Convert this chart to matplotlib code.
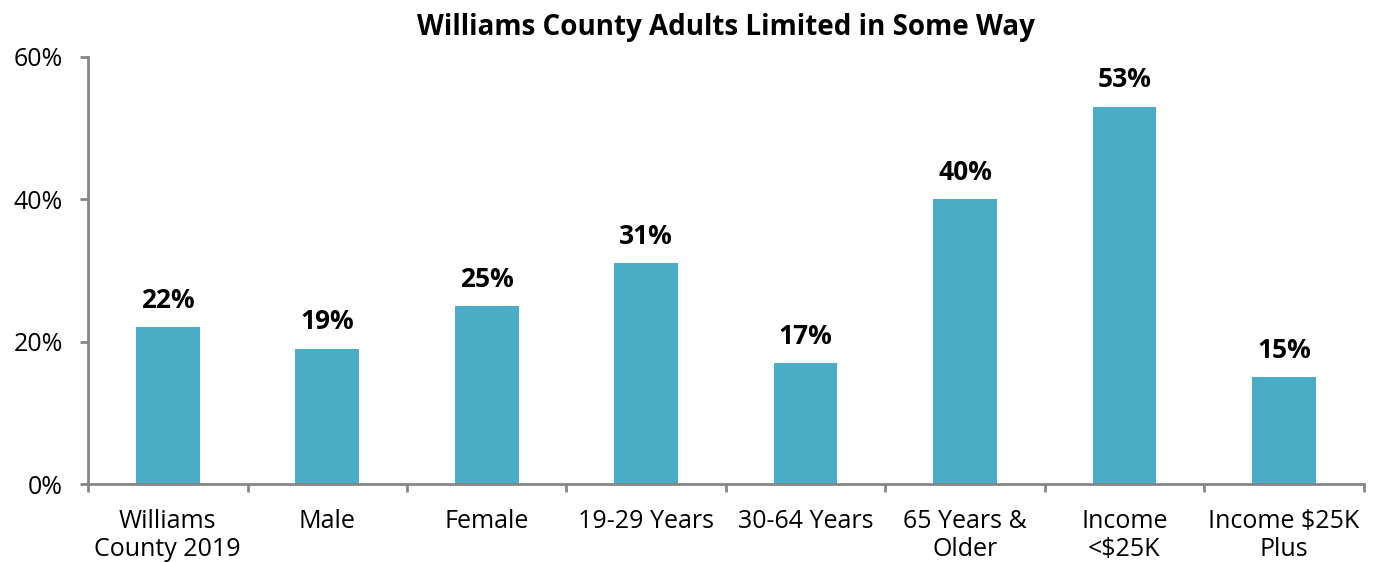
import matplotlib.pyplot as plt
import numpy as np
from matplotlib.ticker import FixedLocator, PercentFormatter

categories = ['Williams\nCounty 2019', 'Male', 'Female', '19-29 Years', '30-64 Years',
              '65 Years &\nOlder', 'Income\n<$25K', 'Income $25K\nPlus']
values = [22, 19, 25, 31, 17, 40, 53, 15]

plt.rcParams['font.family'] = ['Open Sans', 'DejaVu Sans']

fig = plt.figure(figsize=(13.76, 5.63), dpi=100)
ax = fig.add_axes([0.064, 0.140, 0.927, 0.759])

x = np.arange(len(categories))
bars = ax.bar(x, values, width=0.4, color='#4BACC6')

# bold value labels above each bar
for xi, v in zip(x, values):
    ax.text(xi, v + 1.9, f'{v}%', ha='center', va='bottom', fontsize=19, fontweight='bold')

ax.set_xlim(-0.5, len(categories) - 0.5)
ax.set_ylim(0, 60)
ax.set_yticks([0, 20, 40, 60])
ax.yaxis.set_major_formatter(PercentFormatter(decimals=0))
ax.set_xticks(x)
ax.set_xticklabels(categories, fontsize=18, linespacing=1.15)
ax.xaxis.set_minor_locator(FixedLocator(np.arange(-0.5, len(categories), 1.0)))
ax.tick_params(axis='x', which='major', length=0, pad=18)
ax.tick_params(axis='x', which='minor', length=6, width=2, color='#868686', direction='out')
ax.tick_params(axis='y', labelsize=18, length=6, width=2, color='#868686', pad=12)

for s in ['top', 'right']:
    ax.spines[s].set_visible(False)
for s in ['left', 'bottom']:
    ax.spines[s].set_color('#868686')
    ax.spines[s].set_linewidth(2)

ax.set_title('Williams County Adults Limited in Some Way', fontsize=20, fontweight='bold', pad=16)

fig.savefig('out.png', dpi=100)
